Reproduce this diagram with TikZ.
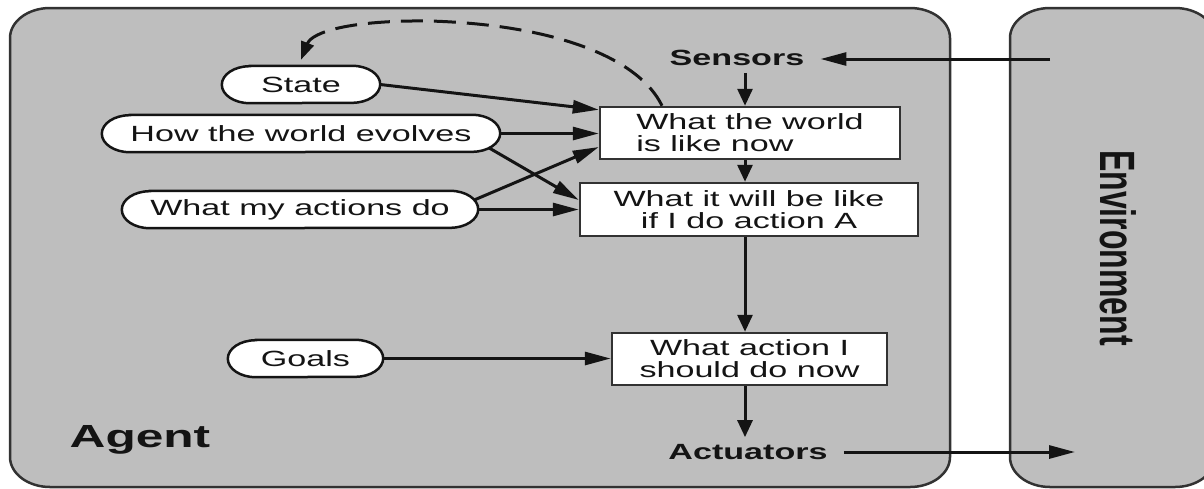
\documentclass[tikz,border=0pt]{standalone}
\usepackage{fontspec}
\setmainfont{Liberation Sans}[FakeStretch=1.55]
\newfontfamily\upfont{Liberation Sans}
\usetikzlibrary{arrows.meta,calc}
\definecolor{agentgray}{RGB}{190,190,190}
\definecolor{ink}{RGB}{20,20,20}
\definecolor{rim}{RGB}{50,50,50}
\pgfdeclarelayer{back}
\pgfsetlayers{back,main}

\tikzset{
  panel/.style={fill=agentgray, draw=rim, line width=2.5pt},
  pillline/.style={fill=white, draw=ink, line width=2.5pt},
  pilltext/.style={inner sep=0pt, minimum height=37pt, text=ink,
    font=\fontsize{22}{22}\selectfont},
  stepbox/.style={draw=rim, fill=white, line width=2.5pt, inner sep=0pt, text=ink,
    font=\fontsize{22}{22}\selectfont},
  port/.style={font=\bfseries\fontsize{22}{22}\selectfont, text=ink,
    inner xsep=16pt, inner ysep=7pt},
  flow/.style={draw=ink, line width=3pt, -{Triangle[length=26pt,width=13pt]}},
  vflow/.style={draw=ink, line width=3pt, -{Triangle[length=17pt,width=15pt]}},
  feedback/.style={draw=ink, line width=3pt, dash pattern=on 22pt off 11pt,
    -{Triangle[length=18pt,width=13pt]}},
}

% pill outline with flattened elliptic ends around a rectangle node
\newcommand\pillshape[1]{%
  \draw[pillline] ([xshift=28pt]#1.north west) -- ([xshift=-28pt]#1.north east)
    arc[start angle=90, end angle=-90, x radius=28pt, y radius=18.5pt]
    -- ([xshift=28pt]#1.south west)
    arc[start angle=270, end angle=90, x radius=28pt, y radius=18.5pt] -- cycle;}

\begin{document}
\begin{tikzpicture}[x=1pt, y=1pt]
  \useasboundingbox (0,0) rectangle (1204,-488);
  \clip (0,0) rectangle (1204,-488);

  % agent and environment panels
  \begin{pgfonlayer}{back}
    \draw[panel] (50,-8) -- (910,-8)
      arc[start angle=90, end angle=0, x radius=40, y radius=30] -- (950,-457)
      arc[start angle=0, end angle=-90, x radius=40, y radius=30] -- (50,-487)
      arc[start angle=270, end angle=180, x radius=40, y radius=30] -- (10,-38)
      arc[start angle=180, end angle=90, x radius=40, y radius=30] -- cycle;
    \draw[panel] (1050,-8) -- (1175,-8)
      arc[start angle=90, end angle=0, x radius=40, y radius=30] -- (1215,-457)
      arc[start angle=0, end angle=-90, x radius=40, y radius=30] -- (1050,-487)
      arc[start angle=270, end angle=180, x radius=40, y radius=30] -- (1010,-38)
      arc[start angle=180, end angle=90, x radius=40, y radius=30] -- cycle;
  \end{pgfonlayer}

  % knowledge held by the agent
  \node[pilltext, minimum width=158pt] (state) at (301,-84.5) {State};
  \node[pilltext, minimum width=398pt] (how) at (301,-133.5) {How the world evolves};
  \node[pilltext, minimum width=356pt] (my) at (300,-209.5) {What my actions do};
  \node[pilltext, minimum width=155pt] (goals) at (305.5,-358.5) {Goals};
  \begin{pgfonlayer}{back}
    \pillshape{state}
    \pillshape{how}
    \pillshape{my}
    \pillshape{goals}
  \end{pgfonlayer}

  % reasoning steps
  \node[stepbox, minimum width=300pt, minimum height=52pt, align=left]
    (now) at (750,-133) {What the world\\is like now};
  \node[stepbox, minimum width=338pt, minimum height=53pt, align=center]
    (will) at (749,-209.5) {What it will be like\\if I do action A};
  \node[stepbox, minimum width=275pt, minimum height=52pt, align=center]
    (act) at (749.5,-359) {What action I\\should do now};

  % interface labels
  \node[port] (sensors) at (737,-58) {Sensors};
  \node[port] (actuators) at (748,-452) {Actuators};
  \node[font=\bfseries\fontsize{32}{32}\selectfont, text=ink] (agentlabel)
    at (140,-440) {Agent};
  \node[rotate=-90, text=ink] (envlabel) at (1118,-248)
    {\scalebox{1}[1.55]{\upfont\bfseries\fontsize{32}{32}\selectfont Environment}};

  % main pipeline
  \coordinate (spine) at (745,0);
  \coordinate (envin) at (1050,-59);
  \coordinate (envout) at (1075,0);
  \draw[flow] (envin) -- (envin -| sensors.east);
  \draw[vflow] (sensors.south -| spine) -- (now.north -| spine);
  \draw[vflow] (now.south -| spine) -- (will.north -| spine);
  \draw[vflow] (will.south -| spine) -- (act.north -| spine);
  \draw[vflow] (act.south -| spine) -- (actuators.north -| spine);
  \draw[flow] (actuators.east) -- (actuators.east -| envout);

  % knowledge feeding the steps
  \draw[flow] (state.east) -- ([yshift=-4pt]now.north west);
  \draw[flow] (how.east) -- (how.east -| now.west);
  \draw[flow] ([xshift=-11pt,yshift=-14.5pt]how.east) -- ([yshift=9.5pt]will.west);
  \draw[flow] ([xshift=-4pt,yshift=9.5pt]my.east) -- ([yshift=-14pt]now.west);
  \draw[flow] (my.east) -- (my.east -| will.west);
  \draw[flow] (goals.east) -- (goals.east -| act.west);

  % state update loop
  \draw[feedback] ([xshift=-88pt]now.north) .. controls (640,-60) and (560,-25) .. (430,-21)
    .. controls (350,-20) and (312,-32) .. ([yshift=6pt]state.north);
\end{tikzpicture}
\end{document}
